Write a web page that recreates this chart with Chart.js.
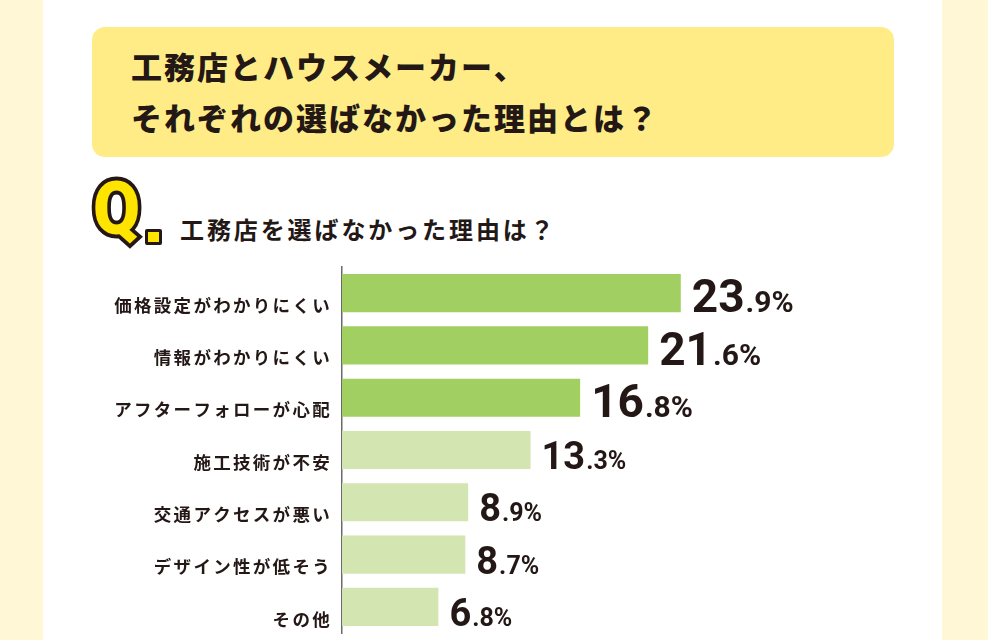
<!DOCTYPE html>
<html lang="ja">
<head>
<meta charset="utf-8">
<script src="https://cdn.jsdelivr.net/npm/chart.js@4/dist/chart.umd.min.js"></script>
<style>
  html, body { margin: 0; padding: 0; }
  body {
    width: 988px; height: 640px; overflow: hidden; position: relative;
    background: #fff7d6;
    font-family: "Noto Sans CJK JP", "Noto Sans", sans-serif;
    color: #231815;
  }
  .panel { position: absolute; left: 43px; top: 0; width: 899px; height: 640px; background: #fff; }
  .titleBox {
    position: absolute; left: 92px; top: 27px; width: 802px; height: 130px;
    background: #ffec86; border-radius: 13px;
  }
  .titleBox p {
    position: absolute; left: 39px; margin: 0;
    font-size: 31px; font-weight: 900; letter-spacing: 2px; line-height: 1;
    white-space: nowrap;
  }
  .q {
    position: absolute; left: 89px; top: 172px; width: 60px; text-align: center;
    font-family: Roboto, "DejaVu Sans", sans-serif; font-weight: 900; font-size: 74px; line-height: 1;
    color: #ffe400; -webkit-text-stroke: 8px #231815; paint-order: stroke fill;
    transform: scaleX(0.92); transform-origin: left top;
  }
  .qdot {
    position: absolute; left: 145px; top: 229px; width: 11px; height: 10px;
    background: #ffe400; border: 3px solid #231815; border-radius: 2px;
  }
  .sub {
    position: absolute; left: 180px; top: 217px; margin: 0;
    font-size: 24px; font-weight: 700; letter-spacing: 2.9px; line-height: 1; white-space: nowrap;
  }
  #wrap { position: absolute; left: 0; top: 255px; width: 988px; height: 385px; }
</style>
</head>
<body>
<div class="panel"></div>
<div class="titleBox">
  <p style="top:23px">工務店とハウスメーカー、</p>
  <p style="top:74px">それぞれの選ばなかった理由とは？</p>
</div>
<div class="q">Q</div>
<div class="qdot"></div>
<p class="sub">工務店を選ばなかった理由は？</p>
<div id="wrap"><canvas id="chart"></canvas></div>

<script>
const categories = ['価格設定がわかりにくい', '情報がわかりにくい', 'アフターフォローが心配', '施工技術が不安', '交通アクセスが悪い', 'デザイン性が低そう', 'その他'];
const values = [23.9, 21.6, 16.8, 13.3, 8.9, 8.7, 6.8];
const topCount = 3;

const textColor = '#231815';
const darkGreen = '#a2cf62';
const lightGreen = '#d3e5b0';

// 数値ラベル（整数部を大きく、小数部と%を小さく）
const valueLabels = {
    id: 'valueLabels',
    afterDatasetsDraw(chart) {
        const ctx = chart.ctx;
        const meta = chart.getDatasetMeta(0);
        ctx.save();
        ctx.fillStyle = textColor;
        ctx.textBaseline = 'alphabetic';
        ctx.textAlign = 'left';
        meta.data.forEach((bar, i) => {
            const { x, y, height } = bar.getProps(['x', 'y', 'height'], true);
            const parts = values[i].toFixed(1).split('.');
            const big = i < topCount ? 46 : 38;
            const small = i < topCount ? 30 : 25;
            const baseY = y + height / 2;
            let px = x + 11;
            ctx.font = `700 ${big}px Roboto, "DejaVu Sans", sans-serif`;
            ctx.fillText(parts[0], px, baseY);
            px += ctx.measureText(parts[0]).width + 1;
            ctx.font = `700 ${small}px Roboto, "DejaVu Sans", sans-serif`;
            ctx.fillText('.' + parts[1] + '%', px, baseY);
        });
        ctx.restore();
    }
};

// 項目名の字間
const tickSpacing = {
    id: 'tickSpacing',
    beforeDraw(chart) { chart.ctx.letterSpacing = '2.3px'; },
    beforeDatasetsDraw(chart) { chart.ctx.letterSpacing = '0px'; }
};

new Chart(document.getElementById('chart'), {
    type: 'bar',
    data: {
        labels: categories,
        datasets: [{
            data: values,
            backgroundColor: values.map((v, i) => i < topCount ? darkGreen : lightGreen),
            borderWidth: 0,
            categoryPercentage: 1,
            barPercentage: 0.73
        }]
    },
    options: {
        indexAxis: 'y',
        responsive: true,
        maintainAspectRatio: false,
        animation: false,
        events: [],
        layout: { padding: { left: 0, right: 79, top: 12, bottom: 7 } },
        plugins: { legend: { display: false }, tooltip: { enabled: false } },
        scales: {
            x: { display: false, min: 0, max: 40 },
            y: {
                afterFit: (scale) => {
                    scale.width = 342;
                    scale.paddingTop = 0;
                    scale.paddingBottom = 0;
                },
                grid: { display: false, drawTicks: false },
                border: { display: true, color: '#6b6b6b', width: 1.5 },
                ticks: {
                    color: textColor,
                    padding: 10,
                    labelOffset: 12,
                    font: { family: '"Noto Sans CJK JP", sans-serif', size: 17.5, weight: 'bold' }
                }
            }
        }
    },
    plugins: [valueLabels, tickSpacing]
});
</script>
</body>
</html>
